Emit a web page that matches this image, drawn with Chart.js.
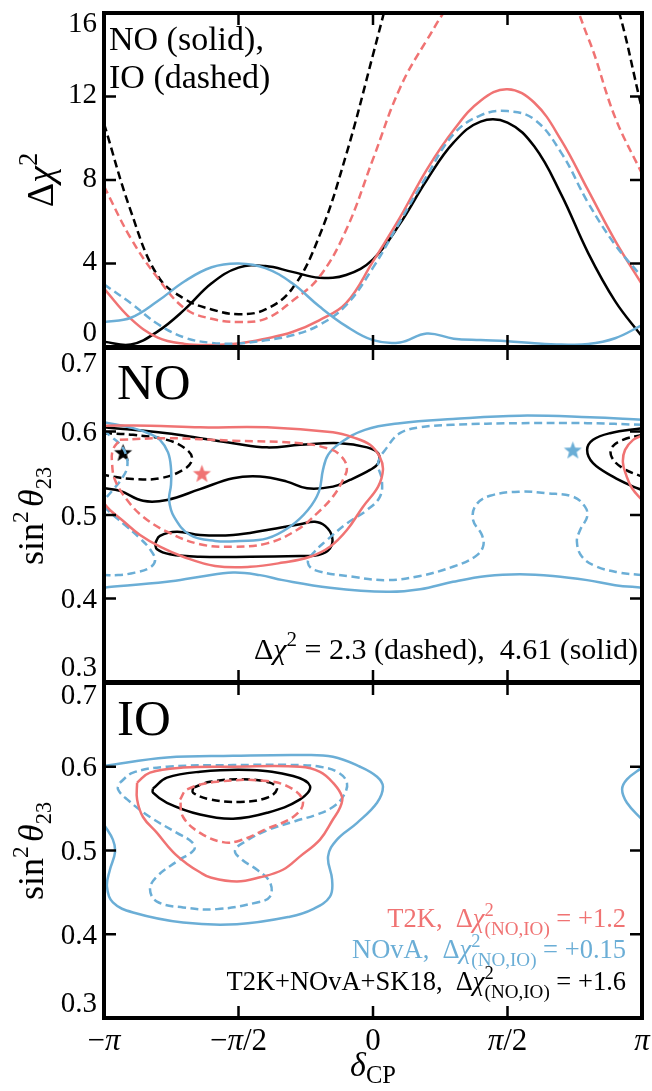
<!DOCTYPE html>
<html><head><meta charset="utf-8">
<script src="https://cdn.jsdelivr.net/npm/chart.js@4"></script>
<style>
html,body{margin:0;padding:0;background:#fff;}
#wrap{position:relative;width:652px;height:1091px;overflow:hidden;background:#fff;}
canvas{position:absolute;left:0;}
</style></head><body>
<div id="wrap">
<canvas id="c1" width="652" height="352" style="top:0px;width:652px;height:352px"></canvas>
<canvas id="c2" width="652" height="350" style="top:340px;width:652px;height:350px"></canvas>
<canvas id="c3" width="652" height="415" style="top:676px;width:652px;height:415px"></canvas>
</div>
<script>
// ---------------- DATA ----------------
// delta_CP in units of pi
const deltaGrid = [-1,-0.9,-0.8,-0.7,-0.6,-0.5,-0.4,-0.3,-0.2,-0.1,0,0.1,0.2,0.3,0.4,0.5,0.6,0.7,0.8,0.9,1];
// Delta chi^2 profiles (top panel)
const chi2_T2K_NO  = [2.8,1.35,0.45,0.15,0.1,0.17,0.4,0.72,1.28,2.1,4.1,6.2,8.5,10.4,11.8,12.35,11.7,9.9,7.5,5.1,3.0];
const chi2_T2K_IO  = [7.7,5.2,3.3,1.85,1.35,1.2,1.35,2.2,3.35,5.6,9.0,12.4,14.7,16.6,17.5,17.8,17.6,17.4,14.8,11.0,8.3];
const chi2_NOvA_NO = [1.2,1.4,2.2,3.15,3.82,4.0,3.78,3.05,1.95,1.0,0.33,0.22,0.65,0.4,0.33,0.28,0.18,0.12,0.14,0.42,1.05];
const chi2_NOvA_IO = [3.0,2.1,1.1,0.45,0.2,0.17,0.32,0.56,1.05,2.0,3.8,6.0,8.2,10.2,11.1,11.3,10.9,9.3,6.9,4.9,3.35];
const chi2_ALL_NO  = [0.25,0.12,0.75,1.8,3.05,3.8,3.88,3.6,3.32,3.45,4.2,5.9,8.0,9.8,10.8,10.75,9.6,7.3,4.5,2.2,0.5];
const chi2_ALL_IO  = [10.7,6.5,3.4,2.3,1.8,1.57,1.8,2.8,5.3,9.2,14.0,19.0,null,null,null,null,null,null,20.0,16.7,11.4];

// Contours, NO panel: [delta/pi, sin^2 theta23]
const NO_NOvA_461_top = [[-1.0,0.611],[-0.892,0.604],[-0.829,0.597],[-0.792,0.590],[-0.762,0.575],[-0.751,0.556],[-0.751,0.536],[-0.758,0.518],[-0.740,0.498],[-0.680,0.476],[-0.587,0.469],[-0.494,0.469],[-0.394,0.472],[-0.309,0.486],[-0.242,0.506],[-0.201,0.528],[-0.186,0.554],[-0.167,0.572],[-0.123,0.586],[-0.030,0.602],[0.100,0.610],[0.297,0.615],[0.546,0.619],[0.807,0.617],[1.0,0.614]];
const NO_NOvA_461_bot = [[-1.0,0.413],[-0.766,0.420],[-0.643,0.426],[-0.520,0.431],[-0.420,0.428],[-0.335,0.422],[-0.160,0.413],[0.052,0.408],[0.175,0.411],[0.297,0.420],[0.424,0.427],[0.546,0.429],[0.669,0.427],[0.796,0.422],[0.900,0.416],[1.0,0.413]];
const NO_NOvA_23_a = [[1.0,0.608],[0.796,0.610],[0.546,0.610],[0.297,0.608],[0.175,0.605],[0.100,0.598],[0.052,0.581],[0.019,0.562],[0.033,0.542],[0.026,0.522],[-0.022,0.506],[-0.097,0.490],[-0.171,0.470],[-0.223,0.454],[-0.242,0.443],[-0.216,0.434],[-0.074,0.426],[0.052,0.422],[0.175,0.427],[0.297,0.438],[0.379,0.450],[0.409,0.462],[0.405,0.476],[0.372,0.494],[0.383,0.512],[0.435,0.523],[0.546,0.528],[0.647,0.526],[0.743,0.522],[0.788,0.510],[0.796,0.498],[0.770,0.482],[0.758,0.468],[0.777,0.450],[0.833,0.438],[0.918,0.431],[1.0,0.428]];
const NO_NOvA_23_b = [[-1.0,0.602],[-0.978,0.595],[-0.941,0.585],[-0.918,0.572],[-0.914,0.557],[-0.933,0.544],[-0.967,0.530],[-1.0,0.518]];
const NO_NOvA_23_c = [[-1.0,0.510],[-0.970,0.501],[-0.922,0.488],[-0.866,0.472],[-0.829,0.459],[-0.810,0.446],[-0.829,0.437],[-0.885,0.431],[-0.948,0.428],[-1.0,0.428]];
const NO_T2K_461_a = [[-1.0,0.607],[-0.829,0.607],[-0.643,0.605],[-0.394,0.605],[-0.149,0.599],[-0.074,0.593],[-0.011,0.584],[0.026,0.569],[0.037,0.554],[0.019,0.534],[-0.037,0.510],[-0.097,0.482],[-0.160,0.462],[-0.234,0.450],[-0.335,0.443],[-0.457,0.438],[-0.587,0.439],[-0.706,0.450],[-0.792,0.462],[-0.866,0.476],[-0.933,0.494],[-0.978,0.506],[-1.0,0.514]];
const NO_T2K_461_b = [[1.0,0.595],[0.967,0.590],[0.937,0.578],[0.929,0.563],[0.941,0.548],[0.963,0.532],[1.0,0.518]];
const NO_T2K_23 = [[-0.941,0.590],[-0.766,0.592],[-0.520,0.589],[-0.271,0.586],[-0.171,0.580],[-0.123,0.572],[-0.097,0.557],[-0.112,0.542],[-0.149,0.522],[-0.208,0.502],[-0.283,0.482],[-0.394,0.466],[-0.520,0.462],[-0.643,0.465],[-0.766,0.480],[-0.855,0.498],[-0.914,0.518],[-0.959,0.542],[-0.970,0.562],[-0.967,0.578],[-0.941,0.590]];
const NO_ALL_461_a = [[-1.0,0.605],[-0.766,0.598],[-0.643,0.592],[-0.520,0.586],[-0.394,0.581],[-0.271,0.584],[-0.123,0.586],[-0.022,0.581],[0.019,0.574],[0.019,0.562],[-0.011,0.554],[-0.086,0.542],[-0.149,0.534],[-0.245,0.532],[-0.320,0.540],[-0.420,0.546],[-0.520,0.544],[-0.643,0.531],[-0.766,0.518],[-0.855,0.517],[-0.941,0.529],[-1.0,0.532]];
const NO_ALL_461_b = [[1.0,0.604],[0.881,0.598],[0.818,0.590],[0.796,0.578],[0.818,0.562],[0.892,0.546],[0.967,0.534],[1.0,0.530]];
const NO_ALL_461_c = [[-0.810,0.466],[-0.792,0.475],[-0.729,0.480],[-0.643,0.476],[-0.520,0.476],[-0.394,0.482],[-0.271,0.489],[-0.216,0.492],[-0.178,0.487],[-0.152,0.474],[-0.160,0.460],[-0.204,0.452],[-0.271,0.451],[-0.457,0.450],[-0.643,0.450],[-0.755,0.453],[-0.803,0.459],[-0.810,0.466]];
const NO_ALL_23_a = [[-1.0,0.598],[-0.892,0.596],[-0.766,0.590],[-0.691,0.578],[-0.673,0.566],[-0.706,0.554],[-0.792,0.544],[-0.892,0.543],[-0.967,0.546],[-1.0,0.548]];
const NO_ALL_23_b = [[1.0,0.596],[0.929,0.590],[0.888,0.581],[0.888,0.569],[0.929,0.556],[1.0,0.546]];
const NO_BF_T2K  = [-0.636, 0.550];
const NO_BF_NOvA = [0.743, 0.578];
const NO_BF_ALL  = [-0.929, 0.575];

// Contours, IO panel
const IO_NOvA_461_a = [[-1.0,0.601],[-0.766,0.611],[-0.520,0.613],[-0.271,0.614],[-0.149,0.612],[-0.048,0.600],[0.015,0.588],[0.037,0.576],[0.015,0.557],[-0.059,0.533],[-0.134,0.513],[-0.167,0.493],[-0.152,0.465],[-0.160,0.445],[-0.223,0.430],[-0.309,0.421],[-0.506,0.412],[-0.706,0.414],[-0.892,0.426],[-0.967,0.438],[-0.989,0.457],[-0.978,0.477],[-0.959,0.498],[-0.967,0.513],[-1.0,0.531]];
const IO_NOvA_461_b = [[1.0,0.599],[0.944,0.585],[0.926,0.573],[0.944,0.557],[1.0,0.537]];
const IO_NOvA_23 = [[-0.941,0.581],[-0.892,0.593],[-0.766,0.600],[-0.520,0.602],[-0.271,0.602],[-0.197,0.600],[-0.134,0.594],[-0.097,0.581],[-0.112,0.564],[-0.149,0.552],[-0.208,0.543],[-0.290,0.535],[-0.394,0.524],[-0.468,0.512],[-0.513,0.500],[-0.487,0.489],[-0.431,0.477],[-0.383,0.462],[-0.383,0.445],[-0.431,0.438],[-0.580,0.430],[-0.706,0.432],[-0.803,0.439],[-0.829,0.454],[-0.803,0.469],[-0.729,0.487],[-0.665,0.501],[-0.673,0.510],[-0.729,0.521],[-0.829,0.540],[-0.914,0.561],[-0.948,0.573],[-0.941,0.581]];
const IO_T2K_461 = [[-0.877,0.581],[-0.829,0.593],[-0.706,0.599],[-0.520,0.600],[-0.271,0.600],[-0.197,0.594],[-0.149,0.581],[-0.115,0.564],[-0.123,0.551],[-0.149,0.537],[-0.197,0.513],[-0.271,0.493],[-0.335,0.477],[-0.420,0.468],[-0.506,0.463],[-0.606,0.468],[-0.643,0.474],[-0.691,0.484],[-0.743,0.498],[-0.803,0.521],[-0.855,0.540],[-0.877,0.561],[-0.877,0.581]];
const IO_T2K_23 = [[-0.717,0.561],[-0.691,0.573],[-0.580,0.582],[-0.394,0.583],[-0.297,0.573],[-0.260,0.557],[-0.297,0.540],[-0.394,0.526],[-0.494,0.512],[-0.558,0.510],[-0.643,0.521],[-0.706,0.540],[-0.717,0.561]];
const IO_ALL_461 = [[-0.818,0.574],[-0.766,0.587],[-0.643,0.594],[-0.457,0.596],[-0.297,0.589],[-0.234,0.577],[-0.271,0.561],[-0.394,0.545],[-0.520,0.538],[-0.643,0.543],[-0.766,0.557],[-0.818,0.569],[-0.818,0.574]];
const IO_ALL_23 = [[-0.669,0.575],[-0.606,0.582],[-0.483,0.585],[-0.383,0.581],[-0.357,0.573],[-0.394,0.563],[-0.494,0.558],[-0.606,0.561],[-0.669,0.569],[-0.669,0.575]];

// Tick values / labels
const xTickValues = [-1,-0.5,0,0.5,1];
const xTickLabels = ['−π','−π/2','0','π/2','π'];
const chi2Ticks = [0,4,8,12,16];
const chi2TickLabels = ['0','4','8','12','16'];
const s2Ticks = [0.3,0.4,0.5,0.6,0.7];
const s2TickLabels = ['0.3','0.4','0.5','0.6','0.7'];

// ---------------- STYLE ----------------
const RED = '#f07373', BLUE = '#6baed6', BLACK = '#000000';
const SERIF = '"Liberation Serif", serif';
const DASH = [8, 4.5];
const LW = 2.5;
const TICK = 12;

function fontStr(size, italic){ return (italic ? 'italic ' : '') + (Math.round(size*10)/10) + 'px ' + SERIF; }
function drawRich(ctx, parts, x, y, align, base, color){
  const items = parts.map(p => (typeof p === 'string') ? {t:p} : p);
  ctx.textBaseline = 'alphabetic'; ctx.textAlign = 'left';
  let total = 0;
  const widths = items.map(p => { ctx.font = fontStr(base*(p.s||1), p.it); const w = ctx.measureText(p.t).width; if (p.adv !== false) total += w; return w; });
  let cx = align === 'right' ? x - total : (align === 'center' ? x - total/2 : x);
  items.forEach((p,i) => {
    ctx.font = fontStr(base*(p.s||1), p.it);
    ctx.fillStyle = p.c || color;
    ctx.fillText(p.t, cx, y + (p.dy||0)*base);
    if (p.adv !== false) cx += widths[i];
  });
}
function piParts(label){
  const out = [];
  for (const ch of label) out.push(ch === 'π' ? {t:ch, it:true} : {t:ch});
  return out;
}
function makeStar(color, r){
  const c = document.createElement('canvas');
  const s = Math.ceil(2*r + 2); c.width = s; c.height = s;
  const g = c.getContext('2d'); g.fillStyle = color; g.beginPath();
  for (let i = 0; i < 10; i++){
    const a = -Math.PI/2 + i*Math.PI/5; const rr = (i % 2) ? r*0.42 : r;
    g.lineTo(s/2 + rr*Math.cos(a), s/2 + 1 + rr*Math.sin(a));
  }
  g.closePath(); g.fill(); return c;
}

function curve(vals, color, dashed){
  return { data: deltaGrid.map((d,i) => ({x:d, y:vals[i]})), showLine:true, borderColor:color, borderWidth:LW,
    borderDash: dashed ? DASH : [], pointRadius:0, tension:0.4, spanGaps:false, fill:false };
}
function contour(pts, color, dashed){
  return { data: pts.map(p => ({x:p[0], y:p[1]})), showLine:true, borderColor:color, borderWidth:LW,
    borderDash: dashed ? DASH : [], pointRadius:0, tension:0.4, fill:false };
}
function star(pt, color){
  return { data:[{x:pt[0], y:pt[1]}], showLine:false, pointStyle: makeStar(color, 9.5), pointRadius: 9, borderColor: color, backgroundColor: color };
}

function panelPlugin(spec){
  return { id:'panel', afterDraw(chart){
    const {ctx, chartArea:a} = chart; const x = chart.scales.x, y = chart.scales.y;
    ctx.save();
    ctx.strokeStyle = '#000'; ctx.lineWidth = 2.5; ctx.beginPath();
    xTickValues.forEach(v => { if (v <= -1 || v >= 1) return; const px = x.getPixelForValue(v);
      ctx.moveTo(px, a.top); ctx.lineTo(px, a.top + TICK); ctx.moveTo(px, a.bottom); ctx.lineTo(px, a.bottom - TICK); });
    spec.yTicks.forEach(v => { if (v <= spec.ymin || v >= spec.ymax) return; const py = y.getPixelForValue(v);
      ctx.moveTo(a.left, py); ctx.lineTo(a.left + TICK, py); ctx.moveTo(a.right, py); ctx.lineTo(a.right - TICK, py); });
    ctx.stroke();
    ctx.lineWidth = 4; ctx.strokeRect(a.left, a.top, a.right - a.left, a.bottom - a.top);
    // y tick labels
    ctx.fillStyle = '#000'; ctx.textAlign = 'right'; ctx.textBaseline = 'middle'; ctx.font = fontStr(29);
    const n = spec.yTicks.length;
    spec.yTicks.forEach((v,i) => {
      let py = y.getPixelForValue(v);
      if (i === 0) py -= 14; else if (i === n-1) py += spec.topShift; else py += spec.shift;
      ctx.fillText(spec.yLabels[i], a.left - 7, py);
    });
    if (spec.extra) spec.extra(ctx, chart);
    ctx.restore();
  }};
}

function makeChart(id, spec){
  return new Chart(document.getElementById(id), {
    type:'scatter',
    data:{ datasets: spec.datasets },
    options:{
      responsive:false, animation:false, devicePixelRatio:1, events:[],
      layout:{ padding: spec.padding, autoPadding:false },
      plugins:{ legend:{display:false}, tooltip:{enabled:false} },
      scales:{
        x:{ type:'linear', min:-1, max:1, display:false },
        y:{ type:'linear', min:spec.ymin, max:spec.ymax, display:false }
      }
    },
    plugins:[panelPlugin(spec)]
  });
}

function s2Title(ctx, cy){
  ctx.save(); ctx.translate(43, cy); ctx.rotate(-Math.PI/2);
  drawRich(ctx, ['sin', {t:'2', s:0.65, dy:-0.42}, {t:' ', s:0.5}, {t:'θ', it:true}, {t:'23', s:0.62, dy:0.22}], 0, 0, 'center', 36, '#000');
  ctx.restore();
}

// ---------------- PANEL 1: Delta chi^2 ----------------
makeChart('c1', {
  padding:{left:104, right:10, top:13, bottom:5},
  ymin:0, ymax:16, yTicks:chi2Ticks, yLabels:chi2TickLabels, shift:-1, topShift:11,
  datasets:[
    curve(chi2_NOvA_NO, BLUE, false), curve(chi2_NOvA_IO, BLUE, true),
    curve(chi2_T2K_NO, RED, false), curve(chi2_T2K_IO, RED, true),
    curve(chi2_ALL_NO, BLACK, false), curve(chi2_ALL_IO, BLACK, true)
  ],
  extra(ctx){
    drawRich(ctx, ['NO (solid),'], 109, 50, 'left', 34, '#000');
    drawRich(ctx, ['IO (dashed)'], 109, 88, 'left', 34, '#000');
    ctx.save(); ctx.translate(53, 180); ctx.rotate(-Math.PI/2);
    drawRich(ctx, ['Δ', {t:'χ', it:true}, {t:'2', s:0.7, dy:-0.42}], 0, 0, 'center', 38, '#000');
    ctx.restore();
  }
});

// ---------------- PANEL 2: NO contours ----------------
makeChart('c2', {
  padding:{left:104, right:10, top:8, bottom:8},
  ymin:0.3, ymax:0.7, yTicks:s2Ticks, yLabels:s2TickLabels, shift:2, topShift:16,
  datasets:[
    contour(NO_T2K_461_a, RED, false), contour(NO_T2K_461_b, RED, false), contour(NO_T2K_23, RED, true),
    contour(NO_NOvA_461_top, BLUE, false), contour(NO_NOvA_461_bot, BLUE, false),
    contour(NO_NOvA_23_a, BLUE, true), contour(NO_NOvA_23_b, BLUE, true), contour(NO_NOvA_23_c, BLUE, true),
    contour(NO_ALL_461_a, BLACK, false), contour(NO_ALL_461_b, BLACK, false), contour(NO_ALL_461_c, BLACK, false),
    contour(NO_ALL_23_a, BLACK, true), contour(NO_ALL_23_b, BLACK, true),
    star(NO_BF_T2K, RED), star(NO_BF_NOvA, BLUE), star(NO_BF_ALL, BLACK)
  ],
  extra(ctx){
    drawRich(ctx, ['NO'], 117, 59, 'left', 51, '#000');
    drawRich(ctx, ['Δ', {t:'χ', it:true}, {t:'2', s:0.7, dy:-0.42}, ' = 2.3 (dashed),  4.61 (solid)'], 638, 319, 'right', 30, '#000');
    s2Title(ctx, 176);
  }
});

// ---------------- PANEL 3: IO contours ----------------
makeChart('c3', {
  padding:{left:104, right:10, top:7, bottom:73},
  ymin:0.3, ymax:0.7, yTicks:s2Ticks, yLabels:s2TickLabels, shift:2, topShift:13,
  datasets:[
    contour(IO_T2K_461, RED, false), contour(IO_T2K_23, RED, true),
    contour(IO_NOvA_461_a, BLUE, false), contour(IO_NOvA_461_b, BLUE, false), contour(IO_NOvA_23, BLUE, true),
    contour(IO_ALL_461, BLACK, false), contour(IO_ALL_23, BLACK, true)
  ],
  extra(ctx, chart){
    drawRich(ctx, ['IO'], 117, 59, 'left', 51, '#000');
    const R = 626, B = 26.5;
    const sub = [{t:'2', s:0.7, dy:-0.42, adv:false}, {t:'(NO,IO)', s:0.72, dy:0.3}];
    drawRich(ctx, ['T2K,  Δ', {t:'χ', it:true}, ...sub, ' = +1.2'], R, 251, 'right', B, RED);
    drawRich(ctx, ['NOvA,  Δ', {t:'χ', it:true}, ...sub, ' = +0.15'], R, 282, 'right', B, BLUE);
    drawRich(ctx, ['T2K+NOvA+SK18,  Δ', {t:'χ', it:true}, ...sub, ' = +1.6'], R, 314, 'right', B, '#000');
    const x = chart.scales.x;
    xTickValues.forEach((v,i) => drawRich(ctx, piParts(xTickLabels[i]), x.getPixelForValue(v), 374, 'center', 31, '#000'));
    drawRich(ctx, [{t:'δ', it:true}, {t:'CP', s:0.72, dy:0.22}], 373, 400, 'center', 34, '#000');
    s2Title(ctx, 175);
  }
});
</script>
</body></html>
